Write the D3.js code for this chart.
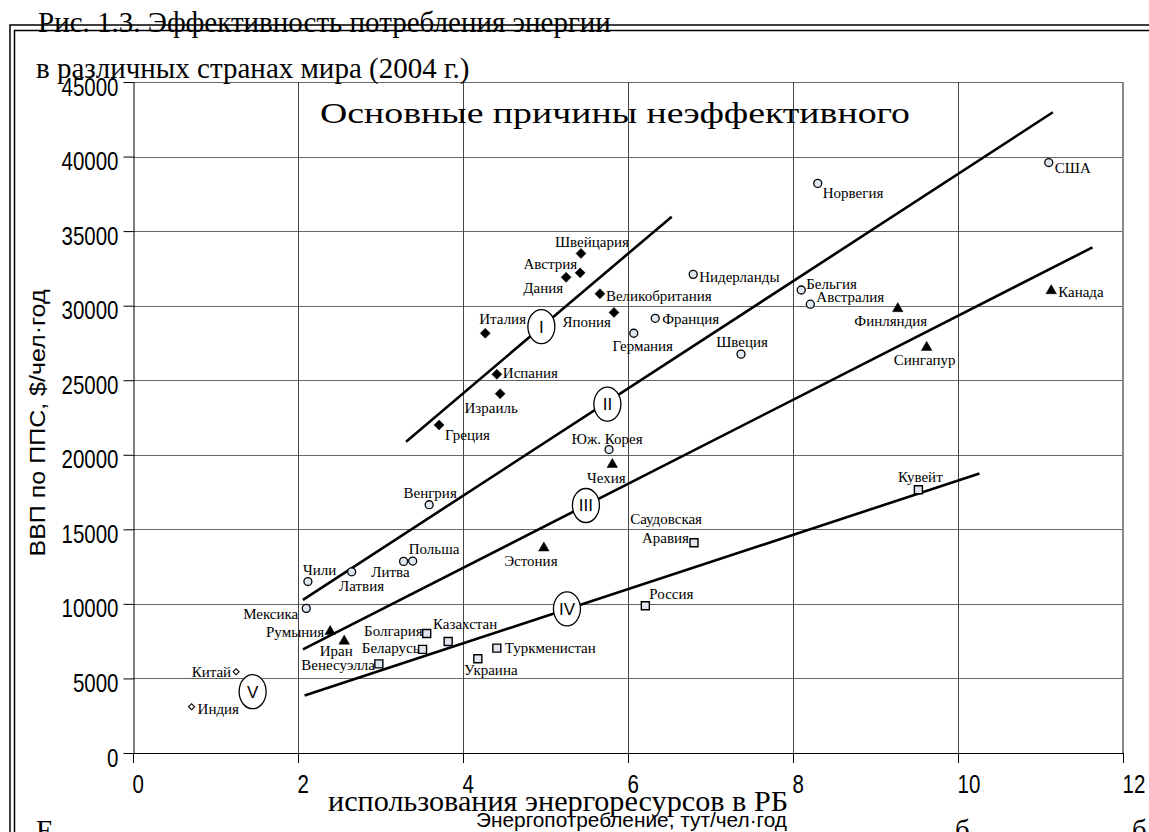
<!DOCTYPE html>
<html>
<head>
<meta charset="utf-8">
<script src="https://cdn.jsdelivr.net/npm/d3@7"></script>
<style>
  body { margin: 0; background: #fff; }
  svg { display: block; }
  .pt-label { font-family: "Liberation Serif", "Times New Roman", serif; font-size: 15px; fill: #000; }
  .doc-text { font-family: "Liberation Serif", "Times New Roman", serif; font-size: 29px; fill: #000; }
  .axis text { font-family: "Liberation Sans", Arial, sans-serif; font-size: 25px; fill: #000; }
  .axis-title { font-family: "Liberation Sans", Arial, sans-serif; fill: #000; }
  .roman { font-family: "Liberation Sans", Arial, sans-serif; font-size: 17px; }
</style>
</head>
<body>
<svg id="chart"></svg>
<script>
// Countries, energy use (tce per person per year) and GDP at PPP ($ per person)
const COUNTRIES = [
  "Швейцария", "Австрия", "Дания", "Великобритания", "Япония", "Италия",
  "Испания", "Израиль", "Греция",
  "США", "Норвегия", "Нидерланды", "Бельгия", "Австралия", "Франция",
  "Германия", "Швеция", "Юж. Корея", "Венгрия", "Польша", "Литва",
  "Латвия", "Чили", "Мексика",
  "Канада", "Финляндия", "Сингапур", "Чехия", "Эстония", "Румыния", "Иран",
  "Кувейт", "Саудовская Аравия", "Россия", "Туркменистан", "Украина",
  "Казахстан", "Болгария", "Беларусь", "Венесуэлла",
  "Китай", "Индия",
];

const ENERGY_USE = [
  5.43, 5.42, 5.25, 5.66, 5.83, 4.27, 4.41, 4.45, 3.71,
  11.10, 8.30, 6.79, 8.10, 8.21, 6.33, 6.07, 7.37, 5.77, 3.59, 3.39, 3.28,
  2.65, 2.12, 2.10,
  11.13, 9.27, 9.62, 5.81, 4.98, 2.39, 2.56,
  9.52, 6.80, 6.21, 4.41, 4.18, 3.82, 3.56, 3.51, 2.98,
  1.25, 0.71,
];

const GDP_PPP = [
  33500, 32200, 31900, 30800, 29550, 28150, 25400, 24100, 22000,
  39600, 38200, 32100, 31050, 30100, 29150, 28150, 26750, 20350, 16650,
  12870, 12850, 12150, 11500, 9700,
  31000, 29800, 27200, 19350, 13750, 8150, 7500,
  17650, 14100, 9880, 7030, 6320, 7480, 8010, 6950, 5980,
  5450, 3100,
];

const GROUPS = [
  "I", "I", "I", "I", "I", "I", "I", "I", "I",
  "II", "II", "II", "II", "II", "II", "II", "II", "II", "II", "II", "II",
  "II", "II", "II",
  "III", "III", "III", "III", "III", "III", "III",
  "IV", "IV", "IV", "IV", "IV", "IV", "IV", "IV", "IV",
  "V", "V",
];

// Trend lines for groups I-IV and the spots where their numerals sit
const TREND_NAMES = ["I", "II", "III", "IV"];
const TREND_FROM = [[3.31, 20880], [2.06, 10270], [2.06, 6950], [2.08, 3860]];
const TREND_TO = [[6.53, 35970], [11.15, 42970], [11.63, 33910], [10.26, 18740]];

const NUMERALS = ["I", "II", "III", "IV", "V"];
const NUMERAL_AT = [[4.95, 28600], [5.75, 23400], [5.49, 16600], [5.26, 9670], [1.45, 4110]];

const X_TICKS = [0, 2, 4, 6, 8, 10, 12];
const Y_TICKS = [0, 5000, 10000, 15000, 20000, 25000, 30000, 35000, 40000, 45000];

// label placement next to each marker: [anchor, dx, dy] per text line
const LABEL_LAYOUT = {
  "Швейцария": [["start", -26, -6]],
  "Австрия": [["end", -3, -4]],
  "Дания": [["end", -3, 16]],
  "Великобритания": [["start", 6, 7]],
  "Япония": [["end", -3, 15]],
  "Италия": [["start", -6, -9]],
  "Испания": [["start", 6, 4]],
  "Израиль": [["middle", -9, 19]],
  "Греция": [["start", 6, 15]],
  "США": [["start", 6, 10]],
  "Норвегия": [["start", 5, 15]],
  "Нидерланды": [["start", 6, 8]],
  "Бельгия": [["start", 5, -1]],
  "Австралия": [["start", 6, -2]],
  "Франция": [["start", 7, 6]],
  "Германия": [["middle", 9, 18]],
  "Швеция": [["middle", 1, -7]],
  "Юж. Корея": [["middle", -2, -6]],
  "Венгрия": [["middle", 1, -7]],
  "Польша": [["start", -4, -7]],
  "Литва": [["end", 6, 16]],
  "Латвия": [["middle", 10, 19]],
  "Чили": [["start", -5, -7]],
  "Мексика": [["end", -8, 11]],
  "Канада": [["start", 7, 6]],
  "Финляндия": [["middle", -7, 17]],
  "Сингапур": [["middle", -2, 18]],
  "Чехия": [["middle", -6, 19]],
  "Эстония": [["middle", -13, 18]],
  "Румыния": [["end", -6, 6]],
  "Иран": [["middle", -8, 15]],
  "Кувейт": [["middle", 2, -8]],
  "Саудовская Аравия": [["end", 8, -19], ["end", -5, 0]],
  "Россия": [["start", 4, -7]],
  "Туркменистан": [["start", 8, 5]],
  "Украина": [["middle", 13, 16]],
  "Казахстан": [["middle", 17, -12]],
  "Болгария": [["end", -4, 2]],
  "Беларусь": [["end", -3, 4]],
  "Венесуэлла": [["end", -4, 6]],
  "Китай": [["end", -5, 5]],
  "Индия": [["start", 6, 7]],
};

class EnergyScatter {
  constructor(_config) {
    this.config = {
      parentElement: _config.parentElement,
      containerWidth: 1149,
      containerHeight: 832,
      margin: { top: 82, right: 26, bottom: 79, left: 133 },
    };
    this.data = COUNTRIES.map((name, i) => ({
      name,
      x: ENERGY_USE[i],
      y: GDP_PPP[i],
      group: GROUPS[i],
    }));
    this.initVis();
  }

  initVis() {
    let vis = this;

    vis.width = vis.config.containerWidth - vis.config.margin.left - vis.config.margin.right;
    vis.height = vis.config.containerHeight - vis.config.margin.top - vis.config.margin.bottom;

    vis.xScale = d3.scaleLinear().domain([0, 12]).range([0, vis.width]);
    vis.yScale = d3.scaleLinear().domain([0, 45000]).range([vis.height, 0]);

    vis.xAxis = d3.axisBottom(vis.xScale).tickValues(X_TICKS).tickSize(10)
      .tickSizeOuter(0).tickFormat(d3.format("d"));
    vis.yAxis = d3.axisLeft(vis.yScale).tickValues(Y_TICKS).tickSize(10)
      .tickSizeOuter(0).tickFormat(d3.format("d"));

    vis.svg = d3.select(vis.config.parentElement)
      .attr("width", vis.config.containerWidth)
      .attr("height", vis.config.containerHeight);

    vis.chart = vis.svg.append("g")
      .attr("transform", `translate(${vis.config.margin.left}, ${vis.config.margin.top})`);

    vis.renderVis();
  }

  renderVis() {
    let vis = this;
    const x = vis.xScale, y = vis.yScale;

    // grid
    vis.chart.append("g").selectAll("line.hgrid")
      .data(Y_TICKS.filter(d => d > 0))
      .join("line")
      .attr("x1", 0).attr("x2", vis.width)
      .attr("y1", d => Math.round(y(d)) + 0.5).attr("y2", d => Math.round(y(d)) + 0.5)
      .attr("stroke", "#666").attr("stroke-width", 1);

    vis.chart.append("g").selectAll("line.vgrid")
      .data(X_TICKS.filter(d => d > 0 && d < 12))
      .join("line")
      .attr("x1", d => Math.round(x(d)) + 0.5).attr("x2", d => Math.round(x(d)) + 0.5)
      .attr("y1", 0).attr("y2", vis.height)
      .attr("stroke", "#444").attr("stroke-width", 1);

    // right border is heavier and grey
    vis.chart.append("line")
      .attr("x1", x(12)).attr("x2", x(12))
      .attr("y1", 0).attr("y2", vis.height)
      .attr("stroke", "#888").attr("stroke-width", 2);

    // axes
    const xAxisG = vis.chart.append("g")
      .attr("class", "axis x-axis")
      .attr("transform", `translate(0, ${vis.height})`)
      .call(vis.xAxis);
    xAxisG.select(".domain").attr("stroke", "#000");
    xAxisG.selectAll(".tick line").attr("stroke", "#000");
    xAxisG.selectAll("text")
      .attr("text-anchor", "start")
      .attr("x", -1).attr("y", 40).attr("dy", null)
      .attr("textLength", d => String(d).length * 11.4)
      .attr("lengthAdjust", "spacingAndGlyphs");

    const yAxisG = vis.chart.append("g")
      .attr("class", "axis y-axis")
      .attr("transform", "translate(0.5, 0)")
      .call(vis.yAxis);
    yAxisG.select(".domain").attr("stroke", "#000");
    yAxisG.selectAll(".tick line").attr("stroke", "#000");
    yAxisG.selectAll("text")
      .attr("x", -15).attr("dy", 13)
      .attr("textLength", d => String(d).length * 11.4)
      .attr("lengthAdjust", "spacingAndGlyphs");

    // axis titles
    vis.chart.append("text")
      .attr("class", "axis-title")
      .attr("transform", `translate(${45 - vis.config.margin.left}, ${423 - vis.config.margin.top}) rotate(-90)`)
      .attr("text-anchor", "middle")
      .style("font-size", "22px")
      .attr("textLength", 267).attr("lengthAdjust", "spacingAndGlyphs")
      .text("ВВП по ППС, $/чел·год");

    vis.chart.append("text")
      .attr("class", "axis-title")
      .attr("x", 476 - vis.config.margin.left)
      .attr("y", 827 - vis.config.margin.top)
      .style("font-size", "21px")
      .attr("textLength", 311).attr("lengthAdjust", "spacingAndGlyphs")
      .text("Энергопотребление, тут/чел·год");

    // trend lines
    const trends = TREND_NAMES.map((name, i) => ({ name, from: TREND_FROM[i], to: TREND_TO[i] }));
    vis.chart.append("g").selectAll("line.trend")
      .data(trends)
      .join("line")
      .attr("class", "trend")
      .attr("x1", d => x(d.from[0])).attr("y1", d => y(d.from[1]))
      .attr("x2", d => x(d.to[0])).attr("y2", d => y(d.to[1]))
      .attr("stroke", "#000").attr("stroke-width", 2.6);

    // numerals in ellipses
    const numerals = vis.chart.append("g").selectAll("g.numeral")
      .data(NUMERALS.map((name, i) => ({ name, at: NUMERAL_AT[i] })))
      .join("g")
      .attr("transform", d => `translate(${x(d.at[0])}, ${y(d.at[1])})`);
    numerals.append("ellipse")
      .attr("rx", 13.5).attr("ry", 17)
      .attr("fill", "#fff").attr("stroke", "#000").attr("stroke-width", 1.3);
    numerals.append("text")
      .attr("class", "roman")
      .attr("text-anchor", "middle")
      .attr("dy", 6)
      .text(d => d.name);

    // markers
    const markerStyle = {
      I: { type: d3.symbolSquare, size: 50, rotate: 45, fill: "#000", stroke: "#000", sw: 0.5 },
      II: { type: d3.symbolCircle, size: 50, rotate: 0, fill: "#dfe7f0", stroke: "#000", sw: 1.3 },
      III: { type: d3.symbolTriangle, size: 48, rotate: 0, fill: "#000", stroke: "#000", sw: 0.5 },
      IV: { type: d3.symbolSquare, size: 64, rotate: 0, fill: "#dfe6f0", stroke: "#000", sw: 1.4 },
      V: { type: d3.symbolSquare, size: 18, rotate: 45, fill: "#fff", stroke: "#000", sw: 1.1 },
    };

    vis.chart.append("g").selectAll("path.marker")
      .data(vis.data)
      .join("path")
      .attr("class", "marker")
      .attr("transform", d => `translate(${x(d.x)}, ${y(d.y)}) rotate(${markerStyle[d.group].rotate})`)
      .attr("d", d => d3.symbol().type(markerStyle[d.group].type).size(markerStyle[d.group].size)())
      .attr("fill", d => markerStyle[d.group].fill)
      .attr("stroke", d => markerStyle[d.group].stroke)
      .attr("stroke-width", d => markerStyle[d.group].sw);

    // country labels
    const labelLines = [];
    vis.data.forEach(d => {
      const layout = LABEL_LAYOUT[d.name];
      const parts = layout.length > 1 ? d.name.split(" ") : [d.name];
      layout.forEach((l, i) => {
        labelLines.push({ text: parts[i], anchor: l[0], px: x(d.x) + l[1], py: y(d.y) + l[2] });
      });
    });
    vis.chart.append("g").selectAll("text.pt-label")
      .data(labelLines)
      .join("text")
      .attr("class", "pt-label")
      .attr("text-anchor", d => d.anchor)
      .attr("x", d => d.px).attr("y", d => d.py)
      .text(d => d.text);

    // page frame and the document text that overlaps the figure
    const frame = vis.svg.append("g").attr("stroke", "#000").attr("stroke-width", 1.5).attr("fill", "none");
    frame.append("path").attr("d", "M10,832 V25 H1149");
    frame.append("path").attr("d", "M14.5,832 V30.5 H1149");

    const doc = vis.svg.append("g");
    doc.append("text").attr("class", "doc-text").attr("x", 38).attr("y", 32)
      .text("Рис. 1.3. Эффективность потребления энергии");
    doc.append("text").attr("class", "doc-text").attr("x", 36).attr("y", 78)
      .text("в различных странах мира (2004 г.)");
    doc.append("text").attr("class", "doc-text").attr("x", 320).attr("y", 123)
      .attr("textLength", 590).attr("lengthAdjust", "spacingAndGlyphs")
      .text("Основные причины неэффективного");
    doc.append("text").attr("class", "doc-text").attr("x", 328).attr("y", 811)
      .attr("textLength", 460).attr("lengthAdjust", "spacingAndGlyphs")
      .text("использования энергоресурсов в РБ");
    // next line of the page, cut off by the bottom edge
    doc.append("text").attr("class", "doc-text").attr("x", 36).attr("y", 840).text("Е");
    doc.append("text").attr("class", "doc-text").attr("x", 955).attr("y", 840).text("б");
    doc.append("text").attr("class", "doc-text").attr("x", 1132).attr("y", 840).text("б");
  }
}

new EnergyScatter({ parentElement: "#chart" });
</script>
</body>
</html>
